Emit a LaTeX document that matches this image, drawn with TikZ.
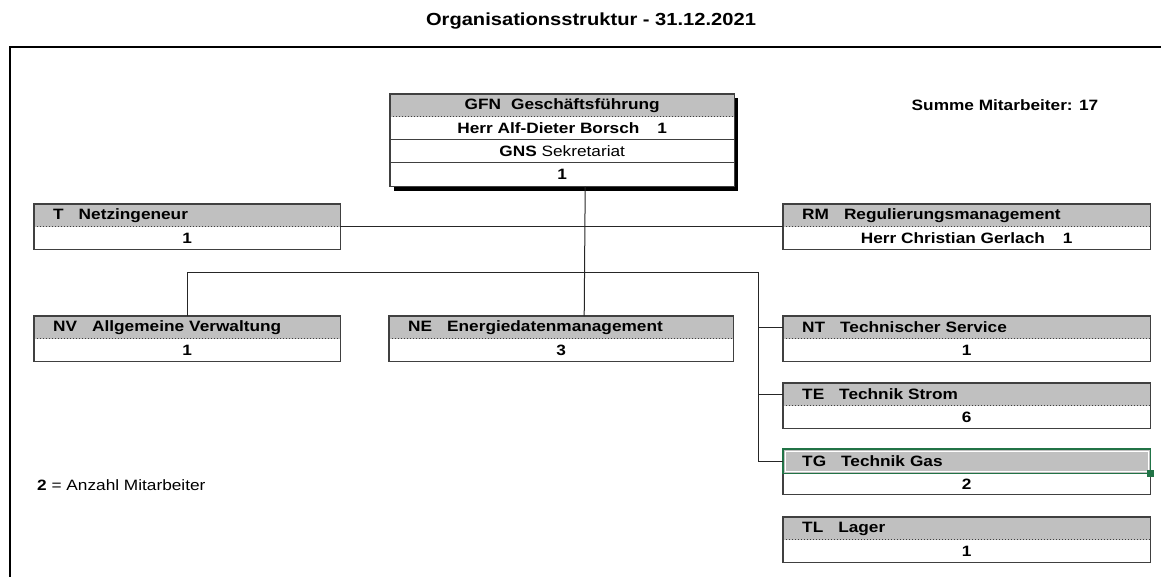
\documentclass[tikz,border=0pt]{standalone}
\usepackage{fontspec}
\setmainfont{Liberation Sans}[FakeStretch=1.15]
\usetikzlibrary{positioning}
\definecolor{headgray}{RGB}{192,192,192}
\definecolor{framegray}{RGB}{64,64,64}
\definecolor{selgreen}{RGB}{33,115,70}
\newcommand{\boxsize}{\fontsize{15}{18}\selectfont}
\newcommand{\titlesize}{\fontsize{17.5}{21}\selectfont}
\tikzstyle{head} = [rectangle, fill=headgray, anchor=north west, minimum height=22.5pt, inner xsep=19pt, inner ysep=0pt, align=left, font=\boxsize\bfseries]
\tikzstyle{count} = [rectangle, minimum height=22.5pt, inner sep=0pt, text centered, font=\boxsize\bfseries]
\tikzstyle{frame} = [draw=framegray, line width=1.2pt]
\tikzstyle{sep} = [draw=framegray, dotted, line width=1pt]
\tikzstyle{line} = [draw=black!85, line width=1pt]

\begin{document}
\begin{tikzpicture}[x=1pt, y=-1pt]
\useasboundingbox (0,0) rectangle (1161,577);
% FRAME
\draw [line width=2.5pt] (10,577) -- (10,47) -- (1161,47);

% TEXTS
\node (title) [font=\titlesize\bfseries] at (591,21) {Organisationsstruktur - 31.12.2021};
\node (summe) [font=\boxsize\bfseries] at (1005,105) {Summe Mitarbeiter: 17};
\node (legend) [font=\boxsize, anchor=west, inner sep=0pt] at (37,485) {\textbf{2} = Anzahl Mitarbeiter};

% NODES
\node (gfn) [head, align=center, text width=306pt] at (390,94) {GFN~~Geschäftsführung};
\node (gfn-name) [count, below=0pt of gfn, minimum width=344pt] {Herr Alf-Dieter Borsch\hspace{1.2em}1};
\node (gfn-sec) [count, below=0pt of gfn-name, minimum width=344pt] {GNS \mdseries Sekretariat};
\node (gfn-n) [count, below=0pt of gfn-sec, minimum width=344pt, minimum height=23.5pt] {1};

\node (t) [head, text width=268pt] at (34,204) {T~~~Netzingeneur};
\node (t-n) [count, below=0pt of t, minimum width=306pt] {1};

\node (rm) [head, text width=329pt] at (783,204) {RM~~~Regulierungsmanagement};
\node (rm-n) [count, below=0pt of rm, minimum width=367pt] {Herr Christian Gerlach\hspace{1.2em}1};

\node (nv) [head, text width=268pt] at (34,316) {NV~~~Allgemeine Verwaltung};
\node (nv-n) [count, below=0pt of nv, minimum width=306pt] {1};

\node (ne) [head, text width=306pt] at (389,316) {NE~~~Energiedatenmanagement};
\node (ne-n) [count, below=0pt of ne, minimum width=344pt] {3};

\node (nt) [head, text width=329pt] at (783,316) {NT~~~Technischer Service};
\node (nt-n) [count, below=0pt of nt, minimum width=367pt] {1};

\node (te) [head, text width=329pt] at (783,383) {TE~~~Technik Strom};
\node (te-n) [count, below=0pt of te, minimum width=367pt] {6};

\node (tg) [head, text width=329pt, minimum height=24pt] at (783,449) {TG~~~Technik Gas};
\node (tg-n) [count, below=0pt of tg, minimum width=367pt, minimum height=21pt] {2};

\node (tl) [head, text width=329pt] at (783,517) {TL~~~Lager};
\node (tl-n) [count, below=0pt of tl, minimum width=367pt] {1};

% BOXES
\fill [black] ([shift={(0,4)}]gfn.north east) rectangle ([shift={(4,4)}]gfn-n.south east);
\fill [black] ([shift={(4,0)}]gfn-n.south west) rectangle ([shift={(4,4)}]gfn-n.south east);
\draw [frame] (gfn.north west) rectangle (gfn-n.south east);
\draw [sep] (gfn.south west) -- (gfn.south east);
\draw [frame] (gfn-name.south west) -- (gfn-name.south east);
\draw [frame] (gfn-sec.south west) -- (gfn-sec.south east);

\draw [frame] (t.north west) rectangle (t-n.south east);
\draw [sep] (t.south west) -- (t.south east);
\draw [frame] (rm.north west) rectangle (rm-n.south east);
\draw [sep] (rm.south west) -- (rm.south east);
\draw [frame] (nv.north west) rectangle (nv-n.south east);
\draw [sep] (nv.south west) -- (nv.south east);
\draw [frame] (ne.north west) rectangle (ne-n.south east);
\draw [sep] (ne.south west) -- (ne.south east);
\draw [frame] (nt.north west) rectangle (nt-n.south east);
\draw [sep] (nt.south west) -- (nt.south east);
\draw [frame] (te.north west) rectangle (te-n.south east);
\draw [sep] (te.south west) -- (te.south east);
\draw [frame] (tg.north west) rectangle (tg-n.south east);
\draw [sep] (tg.south west) -- (tg.south east);
\draw [frame] (tl.north west) rectangle (tl-n.south east);
\draw [sep] (tl.south west) -- (tl.south east);

% selection on TG
\draw [selgreen, line width=1.8pt] (tg.north west) rectangle (tg.south east);
\draw [white, line width=0.7pt] ([shift={(2,2)}]tg.north west) rectangle ([shift={(-2,-2)}]tg.south east);
\fill [selgreen] ([shift={(-3,-3)}]tg.south east) rectangle ([shift={(4,4)}]tg.south east);

% LINES
\coordinate (bus) at (758,272);
\draw [line] ([xshift=23pt]gfn-n.south) -- ([xshift=23pt]ne.north);
\draw [line] (t.south east) -- (rm.south west);
\draw [line] (nv.north) |- (bus) |- (tg.west);
\draw [line] (bus |- nt.west) -- (nt.west);
\draw [line] (bus |- te.west) -- (te.west);
\end{tikzpicture}
\end{document}
